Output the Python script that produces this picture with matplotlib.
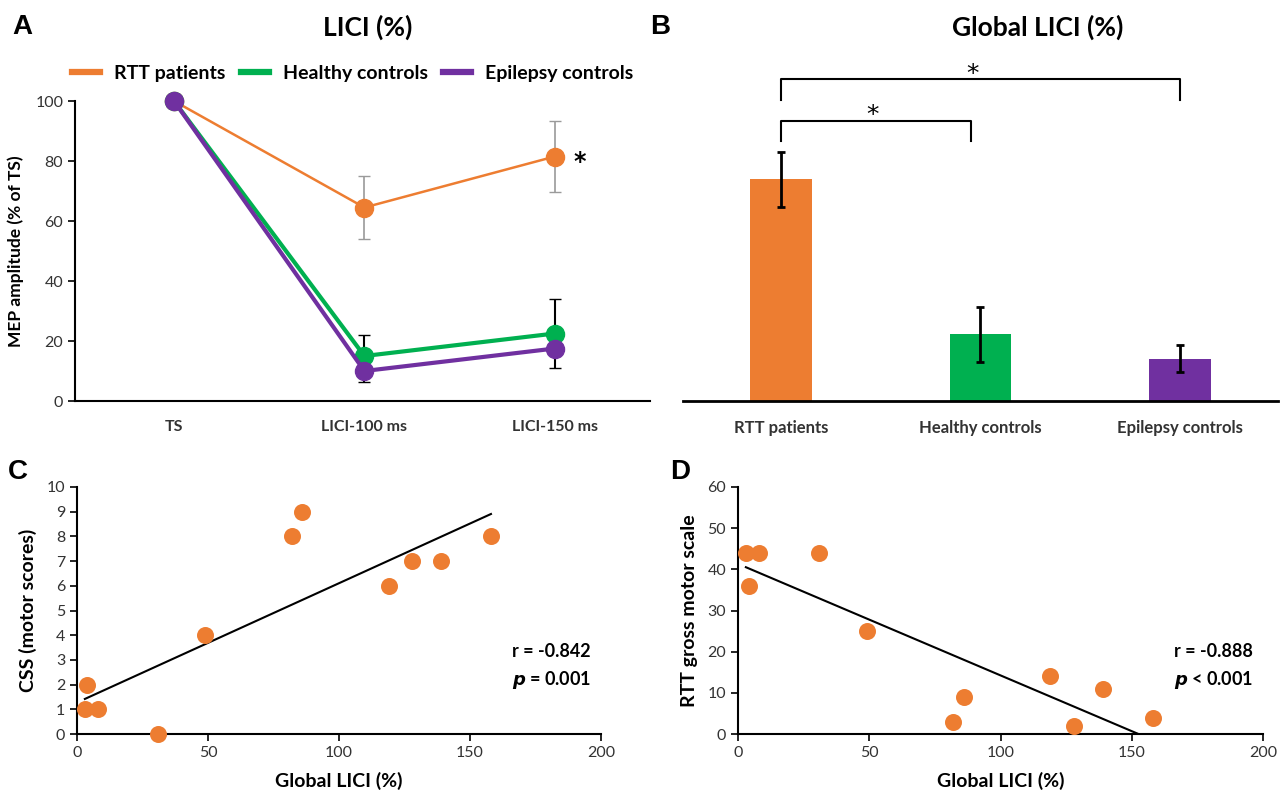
import numpy as np
import matplotlib
matplotlib.use('Agg')
import matplotlib.pyplot as plt
from matplotlib.lines import Line2D

plt.rcParams['font.family'] = ['Lato', 'DejaVu Sans']

# Panel A data
conditions = ['TS', 'LICI-100 ms', 'LICI-150 ms']
rtt_mep = [100, 64.5, 81.5]
rtt_err = [0, 10.5, 11.8]
healthy_mep = [100, 15, 22.5]
healthy_err_up = [0, 7, 11.5]
epilepsy_mep = [100, 10, 17.5]
epilepsy_err_down = [0, 3.7, 6.5]

# Panel B data
groups = ['RTT patients', 'Healthy controls', 'Epilepsy controls']
global_lici = [73, 22, 14]
global_lici_err = [9, 9, 4.6]

# Panels C / D data (RTT patients)
lici_rtt = [3, 8, 4, 31, 49, 82, 86, 119, 128, 139, 158]
css_motor = [1, 1, 2, 0, 4, 8, 9, 6, 7, 7, 8]
gross_motor = [44, 44, 36, 44, 25, 3, 9, 14, 2, 11, 4]

ORANGE = '#ED7D31'
GREEN = '#00B050'
PURPLE = '#7030A0'
TXT = '#333333'

W, H = 1288, 798
fig = plt.figure(figsize=(W / 100, H / 100), dpi=100)


def box(l, t, r, b):
    return [l / W, 1 - b / H, (r - l) / W, (b - t) / H]


def star(a, x, y, dx, dy, size, weight='normal'):
    # asterisk placed by offset (points) from a data point
    a.annotate('*', (x, y), xytext=(dx, dy), textcoords='offset points', ha='center',
               va='baseline', fontsize=size, fontweight=weight, family='DejaVu Sans',
               annotation_clip=False)


# ---------------- A ----------------
ax = fig.add_axes(box(75, 101, 650, 401))
x = np.arange(len(conditions))
ax.errorbar(x, rtt_mep, yerr=rtt_err, color=ORANGE, lw=1.8, marker='o', ms=13,
            ecolor='#9a9a9a', elinewidth=1.2, capsize=4, zorder=3)
ax.errorbar(x, healthy_mep, yerr=[np.zeros(3), healthy_err_up], color=GREEN, lw=3,
            marker='o', ms=13, ecolor='black', elinewidth=1.5, capsize=4, zorder=4)
ax.errorbar(x, epilepsy_mep, yerr=[epilepsy_err_down, np.zeros(3)], color=PURPLE, lw=3,
            marker='o', ms=13, ecolor='black', elinewidth=1.5, capsize=4, zorder=5)
star(ax, 2, rtt_mep[2], 18, -9, 17, 'bold')
ax.set_xlim(-0.52, 2.5)
ax.set_ylim(0, 100)
ax.set_yticks(range(0, 101, 20))
ax.set_xticks(x)
ax.set_xticklabels(conditions, fontsize=11.5, color=TXT, fontweight='bold')
ax.tick_params(axis='x', length=0, pad=14)
ax.tick_params(axis='y', labelsize=11.5, labelcolor=TXT, length=5, width=1.2)
for s in ['top', 'right']:
    ax.spines[s].set_visible(False)
for s in ['left', 'bottom']:
    ax.spines[s].set_linewidth(1.5)
ax.set_ylabel('MEP amplitude (% of TS)', fontsize=12.5, fontweight='bold', labelpad=8)
for a in ax.lines:
    a.set_clip_on(False)
handles = [Line2D([], [], color=c, lw=4.5) for c in (ORANGE, GREEN, PURPLE)]
ax.legend(handles, groups, ncol=3, loc='lower left', bbox_to_anchor=(-0.005, 1.065),
          frameon=False, prop={'weight': 'bold', 'size': 14}, handlelength=1.45,
          columnspacing=0.8, handletextpad=0.7, borderaxespad=0, borderpad=0)
fig.text(368 / W, 1 - 27 / H, 'LICI (%)', fontsize=19, fontweight='bold', ha='center', va='center')
fig.text(12 / W, 1 - 27 / H, 'A', fontsize=20, fontweight='bold', ha='left', va='center',
         family='Liberation Sans')

# ---------------- B ----------------
bx = fig.add_axes(box(683, 52, 1278, 401))
xb = np.arange(len(groups))
bx.bar(xb, global_lici, width=0.31, color=[ORANGE, GREEN, PURPLE],
       yerr=global_lici_err, error_kw=dict(ecolor='black', elinewidth=2, capsize=3, capthick=2))
bx.set_xlim(-0.49, 2.49)
bx.set_ylim(0, 115)
bx.set_yticks([])
bx.set_xticks(xb)
bx.set_xticklabels(groups, fontsize=12, color=TXT, fontweight='bold')
bx.tick_params(axis='x', length=0, pad=14)
for s in ['top', 'right', 'left']:
    bx.spines[s].set_visible(False)
bx.spines['bottom'].set_linewidth(2)
# significance brackets
bx.plot([0, 0, 2, 2], [99.3, 106, 106, 99.3], color='black', lw=1.5)
star(bx, 0.96, 106, 0, -1, 18)
bx.plot([0, 0, 0.95, 0.95], [85.8, 92.4, 92.4, 85.8], color='black', lw=1.5)
star(bx, 0.46, 92.4, 0, -1, 18)
fig.text(1038 / W, 1 - 27 / H, 'Global LICI (%)', fontsize=19, fontweight='bold',
         ha='center', va='center')
fig.text(650 / W, 1 - 27 / H, 'B', fontsize=20, fontweight='bold', ha='left', va='center',
         family='Liberation Sans')


# ---------------- C / D ----------------
def scatter_panel(rect, yvals, ylim, ystep, ylabel, rtext, ptext, letter, letter_x):
    a = fig.add_axes(rect)
    a.scatter(lici_rtt, yvals, s=150, color=ORANGE, zorder=3, clip_on=False, linewidths=0)
    slope, icpt = np.polyfit(lici_rtt, yvals, 1)
    x0 = min(lici_rtt)
    x1 = max(lici_rtt)
    if slope < 0:
        x1 = min(x1, -icpt / slope)
    a.plot([x0, x1], [icpt + slope * x0, icpt + slope * x1], color='black', lw=1.5, zorder=2)
    a.set_xlim(0, 200)
    a.set_ylim(*ylim)
    a.set_xticks(range(0, 201, 50))
    a.set_yticks(np.arange(ylim[0], ylim[1] + 0.1, ystep))
    a.tick_params(labelsize=11.5, labelcolor=TXT, length=5, width=1.2)
    for s in ['top', 'right']:
        a.spines[s].set_visible(False)
    for s in ['left', 'bottom']:
        a.spines[s].set_linewidth(1.5)
    a.set_xlabel('Global LICI (%)', fontsize=14, fontweight='bold', labelpad=9)
    a.set_ylabel(ylabel, fontsize=14, fontweight='bold', labelpad=7)
    a.text(0.83, 0.336, rtext, transform=a.transAxes, fontsize=13, fontweight='bold',
           ha='left', va='center')
    a.text(0.83, 0.219, ptext, transform=a.transAxes, fontsize=13, fontweight='bold',
           ha='left', va='center')
    fig.text(letter_x / W, 1 - 472 / H, letter, fontsize=20, fontweight='bold', ha='left',
             va='center', family='Liberation Sans')
    return a


scatter_panel(box(77, 487, 601, 734), css_motor, (0, 10), 1, 'CSS (motor scores)',
              'r = -0.842', r'$\boldsymbol{p}$ = 0.001', 'C', 8)
scatter_panel(box(738, 487, 1263, 734), gross_motor, (0, 60), 10, 'RTT gross motor scale',
              'r = -0.888', r'$\boldsymbol{p}$ < 0.001', 'D', 670)

fig.savefig('out.png', dpi=100)
